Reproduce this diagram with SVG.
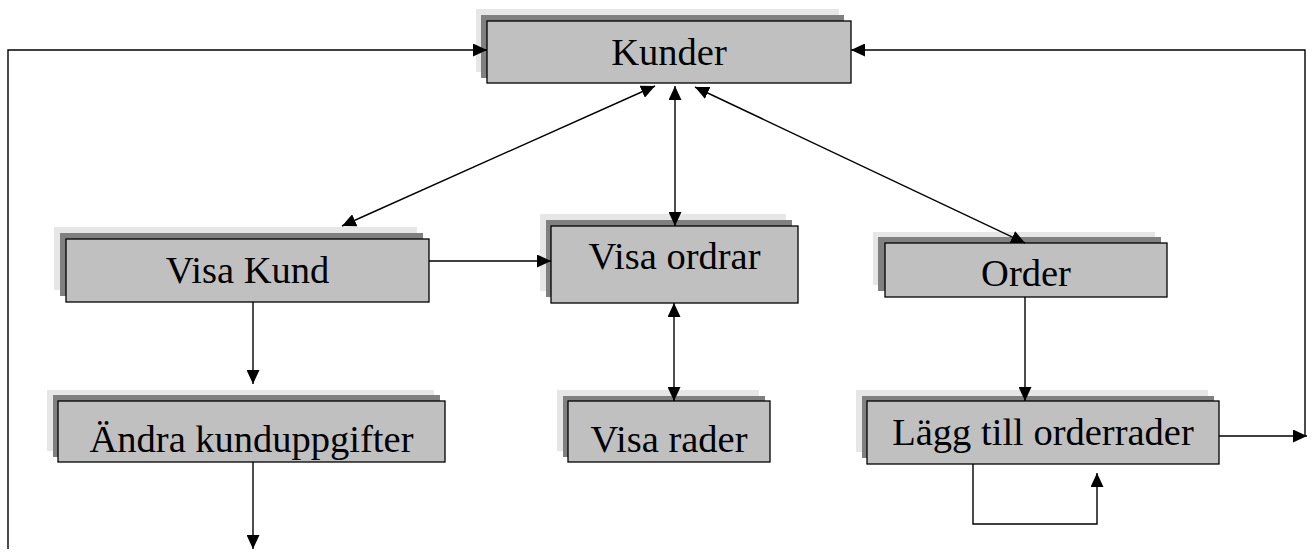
<svg xmlns="http://www.w3.org/2000/svg" width="1316" height="559" viewBox="0 0 1316 559">
<defs>
<marker id="ah" markerUnits="userSpaceOnUse" markerWidth="15" markerHeight="13" refX="14" refY="6.5" orient="auto-start-reverse">
<path d="M0,0 L14,6.5 L0,13 z" fill="#000"/>
</marker>
<style>
.l{fill:#e6e6e6}
.d{fill:#808080}
.m{fill:#c0c0c0;stroke:#000;stroke-width:1.3}
.t{font-family:"Liberation Serif","Times New Roman",serif;font-size:38.5px;fill:#000;text-anchor:middle}
.c{fill:none;stroke:#000;stroke-width:1.4}
</style>
</defs>
<rect width="1316" height="559" fill="#fff"/>
<g id="kunder">
<rect class="l" x="476" y="9" width="363" height="63"/>
<rect class="d" x="481" y="15" width="363" height="63"/>
<rect class="m" x="487" y="21" width="364" height="62"/>
<text class="t" x="669" y="65">Kunder</text>
</g>
<g id="visa-kund">
<rect class="l" x="54" y="227" width="363" height="63"/>
<rect class="d" x="60" y="233" width="363" height="63"/>
<rect class="m" x="66" y="239" width="363" height="63"/>
<text class="t" x="247.5" y="283">Visa Kund</text>
</g>
<g id="visa-ordrar">
<rect class="l" x="540" y="214" width="246" height="77"/>
<rect class="d" x="546" y="220" width="246" height="77"/>
<rect class="m" x="551" y="226" width="247" height="77"/>
<text class="t" x="674.5" y="269">Visa ordrar</text>
</g>
<g id="order">
<rect class="l" x="873" y="232" width="282" height="53"/>
<rect class="d" x="878" y="237" width="283" height="54"/>
<rect class="m" x="885" y="243" width="282" height="54"/>
<text class="t" x="1026" y="286">Order</text>
</g>
<g id="andra">
<rect class="l" x="47" y="390" width="387" height="61"/>
<rect class="d" x="53" y="395" width="387" height="62"/>
<rect class="m" x="58" y="401" width="387" height="61"/>
<text class="t" x="251.5" y="452">Ändra kunduppgifter</text>
</g>
<g id="visa-rader">
<rect class="l" x="557" y="390" width="202" height="61"/>
<rect class="d" x="563" y="396" width="202" height="61"/>
<rect class="m" x="568" y="401" width="202" height="61"/>
<text class="t" x="669" y="452">Visa rader</text>
</g>
<g id="lagg">
<rect class="l" x="856" y="390" width="352" height="62"/>
<rect class="d" x="862" y="396" width="352" height="62"/>
<rect class="m" x="867" y="401" width="352" height="63"/>
<text class="t" x="1043" y="445">Lägg till orderrader</text>
</g>
<g id="connectors">
<polyline class="c" points="8,549 8,50 487,50" marker-end="url(#ah)"/>
<polyline class="c" points="1305,436 1305,50 851,50" marker-end="url(#ah)"/>
<line class="c" x1="1219" y1="436" x2="1307" y2="436" marker-end="url(#ah)"/>
<line class="c" x1="655" y1="86" x2="342" y2="226" marker-start="url(#ah)" marker-end="url(#ah)"/>
<line class="c" x1="675" y1="86" x2="675" y2="226" marker-start="url(#ah)" marker-end="url(#ah)"/>
<line class="c" x1="695" y1="87" x2="1025" y2="243" marker-start="url(#ah)" marker-end="url(#ah)"/>
<line class="c" x1="429" y1="261" x2="551" y2="261" marker-end="url(#ah)"/>
<line class="c" x1="674" y1="303" x2="674" y2="401" marker-start="url(#ah)" marker-end="url(#ah)"/>
<line class="c" x1="253" y1="302" x2="253" y2="384" marker-end="url(#ah)"/>
<line class="c" x1="253" y1="462" x2="253" y2="549" marker-end="url(#ah)"/>
<line class="c" x1="1025" y1="297" x2="1025" y2="401" marker-end="url(#ah)"/>
<polyline class="c" points="973,464 973,524 1097,524 1097,473" marker-end="url(#ah)"/>
</g>
</svg>
